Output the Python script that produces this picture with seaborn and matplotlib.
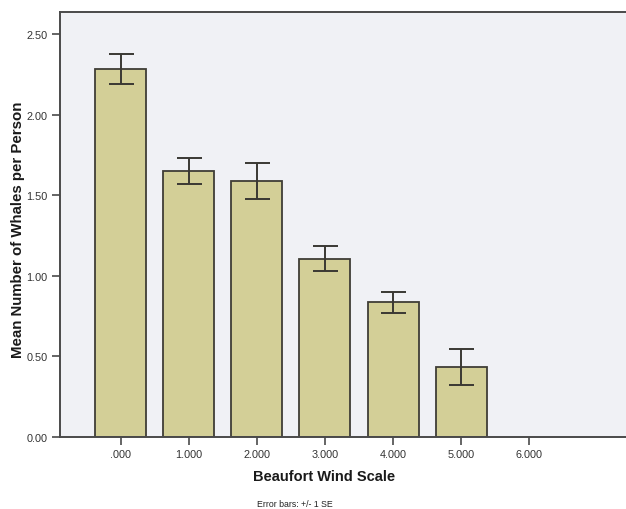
import matplotlib
matplotlib.use("Agg")
import matplotlib.pyplot as plt
import seaborn as sns
import pandas as pd
import numpy as np

# Mean whale counts per observer by Beaufort wind force, with standard errors
wind_labels = [".000", "1.000", "2.000", "3.000", "4.000", "5.000", "6.000"]
mean_whales = [2.283, 1.650, 1.587, 1.107, 0.835, 0.433, np.nan]
std_err = [0.093, 0.080, 0.111, 0.079, 0.065, 0.110, np.nan]
y_ticks = [0.0, 0.5, 1.0, 1.5, 2.0, 2.5]

df = pd.DataFrame({"wind": wind_labels, "mean": mean_whales, "se": std_err})

sns.set_theme(style="white")
plt.rcParams["font.family"] = ["Liberation Sans", "DejaVu Sans"]

fig = plt.figure(figsize=(6.26, 5.10), dpi=100)
fig.patch.set_facecolor("white")
ax = fig.add_axes([60 / 626, 1 - 438 / 510, 1 - 60 / 626, (438 - 13) / 510])
ax.set_facecolor("#f0f1f5")

sns.barplot(data=df.dropna(), x="wind", y="mean", order=wind_labels,
            color="#d3cf97", saturation=1, width=0.75,
            edgecolor="#3f3d36", linewidth=1.3, errorbar=None, ax=ax)

xpos = np.arange(len(wind_labels))
ax.errorbar(xpos, df["mean"], yerr=df["se"], fmt="none",
            ecolor="#3a3833", elinewidth=1.4, capsize=9, capthick=1.4)

ax.set_xlim(-0.89, 7.42)
ax.set_ylim(0, 2.636)
ax.set_yticks(y_ticks)
ax.set_yticklabels([f"{v:.2f}" for v in y_ticks])

for side in ["left", "bottom", "top"]:
    ax.spines[side].set_color("#4a4a4a")
    ax.spines[side].set_linewidth(1.4)
ax.spines["right"].set_visible(False)

ax.tick_params(axis="both", which="both", direction="out", length=6, width=1.2,
               color="#4a4a4a", labelsize=7.8, labelcolor="#333333", pad=3,
               left=True, bottom=True)

ax.set_xlabel("Beaufort Wind Scale", fontsize=10.5, fontweight="bold", color="#1a1a1a")
ax.set_ylabel("Mean Number of Whales per Person", fontsize=10.8, fontweight="bold", color="#1a1a1a")
ax.xaxis.set_label_coords((324 - 60) / 566, -0.075)
ax.yaxis.set_label_coords(-0.061, (438 - 230) / 425)

fig.text(295 / 626, 1 - 505 / 510, "Error bars: +/- 1 SE", ha="center", va="center",
         fontsize=6.3, color="#222222")

fig.savefig("out.png", dpi=100)
